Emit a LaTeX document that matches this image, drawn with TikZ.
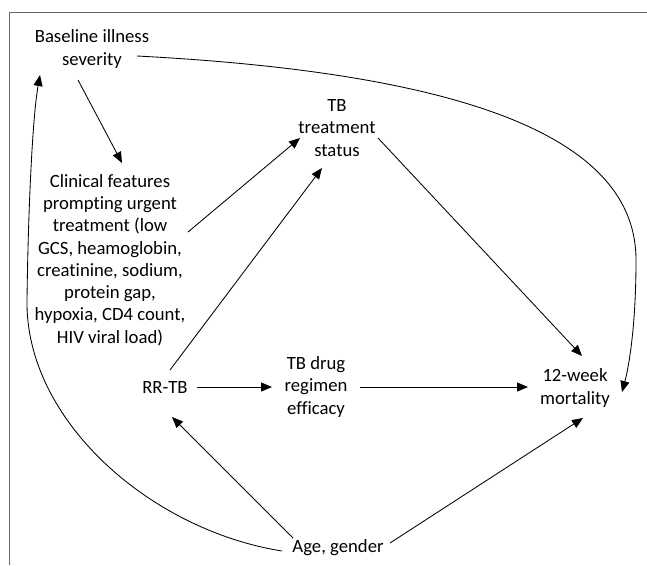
\documentclass[tikz,border=0pt]{standalone}
\usepackage{fontspec}
\setmainfont{Carlito}[Ligatures=NoCommon]
\usetikzlibrary{arrows.meta}

\begin{document}
\begin{tikzpicture}[x=1pt,y=-1pt]
  % Definir estilos
  \tikzset{
    nodo_var/.style={align=center, inner sep=0pt, font=\fontsize{18.7}{22.3}\selectfont},
    flecha/.style={-{Triangle[length=11pt,width=9pt]}, line width=0.85pt},
    marco/.style={black!60, line width=1pt}
  }

  \useasboundingbox (0,0) rectangle (647,565);

  % Marco (solo izquierda y arriba)
  \draw[marco] (9,565) -- (9,12) -- (647,12);

  % Variables
  \node[nodo_var] (baseline) at (92,49) {Baseline illness\\severity};
  \node[nodo_var] (tbstatus) at (337,128) {TB\\treatment\\status};
  \node[nodo_var] (clinical) at (110,260) {Clinical features\\prompting urgent\\treatment (low\\GCS, heamoglobin,\\creatinine, sodium,\\protein gap,\\hypoxia, CD4 count,\\HIV viral load)};
  \node[nodo_var] (rrtb) at (165,387) {RR-TB};
  \node[nodo_var] (regimen) at (316,387) {TB drug\\regimen\\efficacy};
  \node[nodo_var] (mortality) at (575,388) {12-week\\mortality};
  \node[nodo_var] (agegender) at (338,548) {Age, gender};

  % Flechas rectas
  \draw[flecha] ([shift={(-14,31)}]baseline.center) -- ([shift={(12,-97)}]clinical.center);
  \draw[flecha] ([shift={(78,-28)}]clinical.center) -- ([shift={(-37,10)}]tbstatus.center);
  \draw[flecha] ([shift={(5,-17)}]rrtb.center) -- ([shift={(-15,40)}]tbstatus.center);
  \draw[flecha] ([shift={(41,10)}]tbstatus.center) -- ([shift={(7,-32)}]mortality.center);
  \draw[flecha] ([shift={(32,0)}]rrtb.center) -- ([shift={(-44,0)}]regimen.center);
  \draw[flecha] ([shift={(44,0)}]regimen.center) -- ([shift={(-47,-1)}]mortality.center);
  \draw[flecha] ([shift={(-45,-10)}]agegender.center) -- ([shift={(7,30)}]rrtb.center);
  \draw[flecha] ([shift={(52,-5)}]agegender.center) -- ([shift={(8,30)}]mortality.center);

  % Flechas curvas
  \draw[flecha] ([shift={(45,7)}]baseline.center) .. controls (500,75) and (636,150) .. (636,260)
    .. controls (636,330) and (628,370) .. ([shift={(47,4)}]mortality.center);
  \draw[flecha] ([shift={(-56,3)}]agegender.center) .. controls (150,530) and (25,420) .. (27,300)
    .. controls (28,220) and (32,120) .. ([shift={(-52,26)}]baseline.center);
\end{tikzpicture}
\end{document}
